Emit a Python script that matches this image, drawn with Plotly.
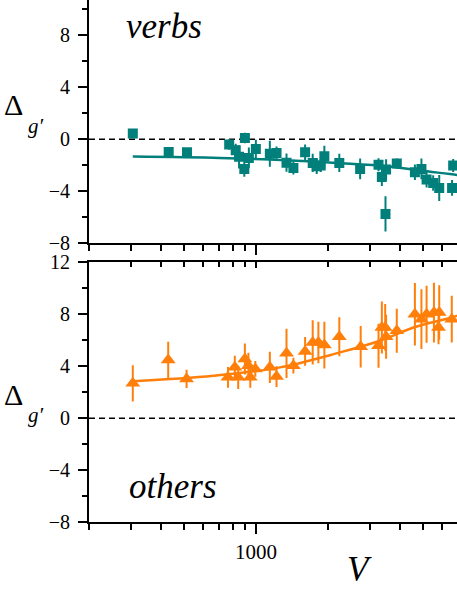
import math
import plotly.graph_objects as go

# verbs panel: vocabulary size V, Delta_g', error
verbs_V = [305, 431, 514, 772, 822, 849, 898, 893, 933, 998, 1142, 1218, 1341, 1433,
           1604, 1726, 1794, 1864, 1931, 2230, 2726, 3254, 3360, 3500, 3480, 3880,
           4620, 4920, 5170, 5510, 5840, 6680, 6610]
verbs_delta = [0.44, -0.97, -1.0, -0.4, -0.85, -1.35, 0.1, -2.28, -1.43, -0.74, -1.12,
               -1.05, -1.8, -2.2, -1.0, -1.82, -2.07, -2.02, -1.3, -1.82, -2.28, -1.95,
               -2.9, -2.33, -5.74, -1.87, -2.54, -2.28, -3.1, -3.36, -3.74, -2.02, -3.74]
verbs_err = [0.3, 0.3, 0.3, 0.4, 0.5, 0.9, 0.4, 0.6, 0.8, 0.7, 1.0, 0.5, 0.7, 0.5,
             0.6, 0.7, 0.6, 0.5, 0.8, 0.7, 0.8, 0.5, 0.7, 0.8, 1.35, 0.4,
             0.6, 0.8, 0.6, 0.6, 1.0, 0.5, 0.6]
verbs_fit_V = [305, 706, 1335, 2172, 3530, 4860, 6934, 7500]
verbs_fit_delta = [-1.33, -1.43, -1.61, -1.82, -2.07, -2.41, -2.74, -2.85]

# others panel
others_V = [305, 429, 512, 763, 815, 842, 898, 929, 946, 993, 1142, 1218, 1341, 1433,
            1604, 1726, 1823, 1931, 2230, 2740, 3254, 3360, 3470, 3500, 3880,
            4620, 4920, 5170, 5550, 5800, 5840, 6590]
others_delta = [2.68, 4.48, 3.02, 3.14, 3.91, 3.14, 4.55, 4.04, 3.14, 3.79, 3.91, 3.2,
                4.99, 4.04, 5.14, 5.83, 5.83, 5.63, 6.27, 5.5, 5.57, 6.98, 6.98, 6.27,
                6.73, 8.0, 7.62, 8.0, 8.13, 6.98, 8.13, 7.62]
others_err = [1.4, 1.4, 0.7, 0.8, 0.9, 0.9, 1.2, 1.0, 0.8, 0.6, 1.2, 0.8,
              1.9, 0.6, 1.1, 1.7, 1.6, 1.8, 1.5, 1.6, 1.7, 2.0, 1.8, 1.7,
              1.7, 2.4, 2.3, 2.2, 2.3, 1.3, 2.1, 1.8]
others_fit_V = [305, 662, 1261, 2246, 3300, 4560, 6580, 7500]
others_fit_delta = [2.84, 3.27, 3.91, 5.06, 5.96, 6.98, 7.75, 8.1]

x_major = [1000]
x_minor = [200, 300, 400, 500, 600, 700, 800, 900, 2000, 3000, 4000, 5000, 6000, 7000, 8000, 9000]

teal = '#007F7B'
orange = '#FF7F0A'
serif = 'Liberation Serif'

fig = go.Figure()

fig.add_trace(go.Scatter(
    x=verbs_fit_V, y=verbs_fit_delta, mode='lines',
    line=dict(color=teal, width=2.5, shape='spline'),
    xaxis='x', yaxis='y', showlegend=False))
fig.add_trace(go.Scatter(
    x=verbs_V, y=verbs_delta, mode='markers',
    marker=dict(symbol='square', size=10, color=teal),
    error_y=dict(type='data', array=verbs_err, color=teal, thickness=2, width=0),
    xaxis='x', yaxis='y', showlegend=False))

fig.add_trace(go.Scatter(
    x=others_fit_V, y=others_fit_delta, mode='lines',
    line=dict(color=orange, width=2.5, shape='spline'),
    xaxis='x2', yaxis='y2', showlegend=False))
fig.add_trace(go.Scatter(
    x=others_V, y=others_delta, mode='markers',
    marker=dict(symbol='triangle-up', size=13, color=orange),
    error_y=dict(type='data', array=others_err, color=orange, thickness=2, width=0),
    xaxis='x2', yaxis='y2', showlegend=False))

# dashed zero lines
for yref in ['y', 'y2']:
    fig.add_shape(type='line', xref='paper', yref=yref, x0=0, x1=1, y0=0, y1=0,
                  line=dict(color='black', width=1.5, dash='6px,4px'), layer='below')

x_lo = math.log10(200)
x_hi = x_lo + 368 / 239

xaxis_common = dict(
    type='log', range=[x_lo, x_hi], showline=True, linecolor='black', linewidth=2,
    tickvals=x_major, ticks='outside', ticklen=10, tickwidth=2, tickcolor='black',
    minor=dict(tickvals=x_minor, ticks='outside', ticklen=6, tickwidth=2, tickcolor='black'),
    showgrid=False, zeroline=False, automargin=False,
)
yaxis_common = dict(
    showline=True, linecolor='black', linewidth=2, dtick=4, tick0=0,
    ticks='outside', ticklen=9, tickwidth=2, tickcolor='black',
    minor=dict(dtick=2, ticks='outside', ticklen=5, tickwidth=2, tickcolor='black'),
    showgrid=False, zeroline=False, tickfont=dict(family=serif, size=20, color='black'),
    ticklabelstandoff=4, automargin=False,
)

fig.update_layout(
    width=457, height=591,
    margin=dict(l=89, r=0, t=0, b=69, autoexpand=False),
    paper_bgcolor='white', plot_bgcolor='white',
    font=dict(family=serif, color='black'),
    xaxis=dict(anchor='y', domain=[0, 1], showticklabels=False, **xaxis_common),
    yaxis=dict(anchor='x', domain=[0.534, 1], range=[-8, 10.72], **yaxis_common),
    xaxis2=dict(anchor='y2', domain=[0, 1], showticklabels=True,
                tickfont=dict(family=serif, size=21, color='black'), **xaxis_common),
    yaxis2=dict(anchor='x2', domain=[0, 0.4975], range=[-8, 12], **yaxis_common),
    xaxis3=dict(anchor='y2', overlaying='x2', side='top', type='log', range=[x_lo, x_hi],
                showline=True, linecolor='black', linewidth=2, tickvals=x_major,
                ticks='inside', ticklen=6, tickwidth=2, tickcolor='black',
                minor=dict(tickvals=x_minor, ticks='inside', ticklen=5, tickwidth=2,
                           tickcolor='black'),
                showticklabels=False, showgrid=False, zeroline=False, automargin=False),
)

# invisible trace so the top frame axis is drawn
fig.add_trace(go.Scatter(x=[1000], y=[0], mode='markers', marker=dict(opacity=0),
                         xaxis='x3', yaxis='y2', showlegend=False, hoverinfo='skip'))

annotations = [
    dict(text='<i>verbs</i>', x=0.204, y=0.950, size=35),
    dict(text='<i>others</i>', x=0.227, y=0.068, size=35),
    dict(text='<i>V</i>', x=0.736, y=-0.091, size=35),
    dict(text='Δ', x=-0.204, y=0.799, size=30),
    dict(text="<i>g′</i>", x=-0.145, y=0.759, size=21),
    dict(text='Δ', x=-0.204, y=0.245, size=30),
    dict(text="<i>g′</i>", x=-0.145, y=0.205, size=21),
]
for a in annotations:
    fig.add_annotation(text=a['text'], x=a['x'], y=a['y'], xref='paper', yref='paper',
                       xanchor='center', yanchor='middle', showarrow=False,
                       font=dict(family=serif, size=a['size'], color='black'))

fig.write_html("out.html", config={'displayModeBar': False},
               post_script="document.body.style.margin='0';")
